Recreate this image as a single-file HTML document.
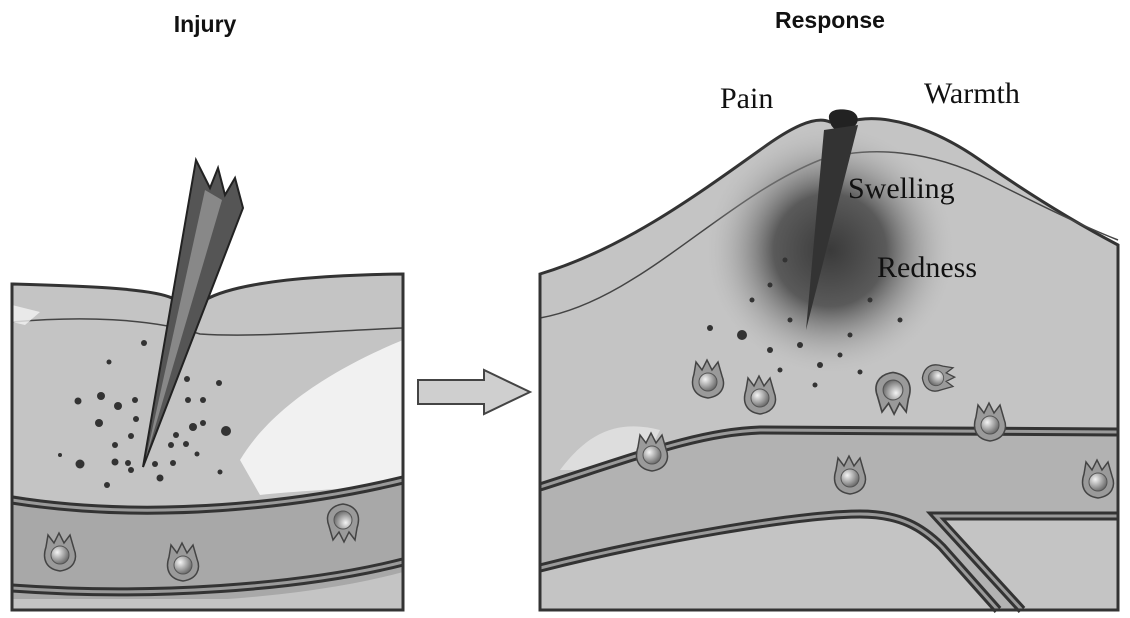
<!DOCTYPE html>
<html><head><meta charset="utf-8"><style>
html,body{margin:0;padding:0;background:#fff;}
svg{display:block}
</style></head><body>
<svg width="1130" height="618" viewBox="0 0 1130 618" xmlns="http://www.w3.org/2000/svg">
<defs>
<radialGradient id="red" cx="0.5" cy="0.5" r="0.5">
<stop offset="0" stop-color="#3a3a3a"/><stop offset="0.45" stop-color="#5a5a5a"/><stop offset="1" stop-color="#bdbdbd" stop-opacity="0"/>
</radialGradient>
<radialGradient id="cellg" cx="0.35" cy="0.35" r="0.7"><stop offset="0" stop-color="#f4f4f4"/><stop offset="1" stop-color="#666"/></radialGradient>
<g id="cell">
<path d="M-14,-8 L-12,-20 L-6,-12 L-1,-22 L4,-12 L10,-20 L14,-6 C18,4 14,14 0,16 C-14,14 -18,4 -14,-8 Z" fill="#9a9a9a" stroke="#444" stroke-width="1.5"/>
<circle cx="0" cy="0" r="9" fill="url(#cellg)" stroke="#555" stroke-width="1"/>
</g>
</defs>
<rect width="1130" height="618" fill="#fff"/>
<text x="205" y="32" font-family="Liberation Sans, sans-serif" font-weight="bold" font-size="23" text-anchor="middle" fill="#111">Injury</text>
<text x="830" y="28" font-family="Liberation Sans, sans-serif" font-weight="bold" font-size="23" text-anchor="middle" fill="#111">Response</text>

<!-- LEFT PANEL -->
<path d="M12,284 C80,286 150,288 172,298 L205,300 C240,280 330,275 403,274 L403,610 L12,610 Z" fill="#c4c4c4" stroke="#333" stroke-width="3"/>
<path d="M12,322 C80,316 150,318 200,334 C260,338 340,330 403,328" fill="none" stroke="#444" stroke-width="1.5"/>
<path d="M240,460 C270,410 330,370 403,340 L403,480 C360,490 300,490 260,495 Z" fill="#f6f6f6" opacity="0.9"/>
<path d="M12,305 L40,312 L25,325 L12,322 Z" fill="#f2f2f2" opacity="0.8"/>
<!-- vessel -->
<path d="M12,495 C150,520 300,505 403,478 L403,572 C300,600 150,608 12,600 Z" fill="#a8a8a8"/>
<path d="M12,500 C150,522 300,505 403,480" fill="none" stroke="#333" stroke-width="9"/>
<path d="M12,500 C150,522 300,505 403,480" fill="none" stroke="#9a9a9a" stroke-width="3"/>
<path d="M12,588 C150,598 300,588 403,562" fill="none" stroke="#333" stroke-width="9"/>
<path d="M12,588 C150,598 300,588 403,562" fill="none" stroke="#9a9a9a" stroke-width="3"/>
<rect x="12" y="599" width="391" height="11" fill="#c4c4c4"/>
<path d="M12,284 L12,610 L403,610 L403,274" fill="none" stroke="#333" stroke-width="3"/>
<use href="#cell" x="60" y="555"/><use href="#cell" x="183" y="565"/>
<g transform="translate(343,520) rotate(180)"><use href="#cell"/></g>
<!-- dots -->
<g fill="#333">
<circle cx="144" cy="343" r="3"/><circle cx="109" cy="362" r="2.5"/><circle cx="78" cy="401" r="3.5"/><circle cx="101" cy="396" r="4"/><circle cx="135" cy="400" r="3"/><circle cx="118" cy="406" r="4"/><circle cx="136" cy="419" r="3"/><circle cx="99" cy="423" r="4"/><circle cx="131" cy="436" r="3"/><circle cx="115" cy="445" r="3"/><circle cx="115" cy="462" r="3.5"/><circle cx="60" cy="455" r="2"/><circle cx="80" cy="464" r="4.5"/><circle cx="128" cy="463" r="3"/><circle cx="107" cy="485" r="3"/><circle cx="131" cy="470" r="3"/><circle cx="187" cy="379" r="3"/><circle cx="219" cy="383" r="3"/><circle cx="188" cy="400" r="3"/><circle cx="203" cy="400" r="3"/><circle cx="203" cy="423" r="3"/><circle cx="193" cy="427" r="4"/><circle cx="226" cy="431" r="5"/><circle cx="176" cy="435" r="3"/><circle cx="171" cy="445" r="3"/><circle cx="186" cy="444" r="3"/><circle cx="173" cy="463" r="3"/><circle cx="197" cy="454" r="2.5"/><circle cx="155" cy="464" r="3"/><circle cx="220" cy="472" r="2.5"/><circle cx="160" cy="478" r="3.5"/>
</g>
<!-- thorn -->
<path d="M143,467 L196,160 L210,188 L218,168 L225,195 L235,178 L243,208 Z" fill="#555" stroke="#222" stroke-width="2"/>
<path d="M146,458 L205,190 L222,200 Z" fill="#888"/>

<!-- ARROW -->
<path d="M418,380 L484,380 L484,370 L530,392 L484,414 L484,404 L418,404 Z" fill="#cfcfcf" stroke="#444" stroke-width="2"/>

<!-- RIGHT PANEL -->
<path d="M540,274 C620,250 690,200 760,150 C790,128 815,115 830,122 L848,122 C880,112 930,125 980,160 C1030,195 1080,225 1118,245 L1118,610 L540,610 Z" fill="#c4c4c4" stroke="#333" stroke-width="3"/>
<path d="M540,318 C640,300 720,200 820,160 C870,145 930,150 990,180 C1040,205 1080,225 1118,240" fill="none" stroke="#444" stroke-width="1.5"/>
<path d="M560,470 C590,430 620,420 660,430 L640,470 Z" fill="#e8e8e8" opacity="0.7"/>
<ellipse cx="830" cy="250" rx="125" ry="125" fill="url(#red)"/>
<path d="M830,122 C825,110 838,108 848,110 C860,112 862,125 848,130 C840,133 832,130 830,122 Z" fill="#222"/>
<path d="M824,130 L858,125 L806,330 Z" fill="#333"/>
<!-- vessel right -->
<path d="M540,487 C640,455 700,432 760,430 L1118,432 L1118,512 L932,512 L1020,610 L1000,610 L940,545 C920,525 900,512 860,512 C800,512 650,540 540,565 Z" fill="#b2b2b2"/>
<g fill="none">
<path d="M540,487 C640,455 700,432 760,430 L1118,432" stroke="#333" stroke-width="9"/>
<path d="M540,487 C640,455 700,432 760,430 L1118,432" stroke="#9a9a9a" stroke-width="3"/>
<path d="M540,568 C650,540 800,514 860,514 C900,514 922,527 942,547 L998,610" stroke="#333" stroke-width="9"/>
<path d="M540,568 C650,540 800,514 860,514 C900,514 922,527 942,547 L998,610" stroke="#9a9a9a" stroke-width="3"/>
<path d="M1118,516 L936,516 L1022,610" stroke="#333" stroke-width="9"/>
<path d="M1118,516 L936,516 L1022,610" stroke="#9a9a9a" stroke-width="3"/>
</g>
<path d="M540,274 L540,610 L1118,610 L1118,245" fill="none" stroke="#333" stroke-width="3"/>
<use href="#cell" x="708" y="382"/><use href="#cell" x="760" y="398"/>
<g transform="translate(893,390) rotate(180) scale(1.1)"><use href="#cell"/></g>
<g transform="translate(936,378) rotate(90) scale(0.85)"><use href="#cell"/></g>
<use href="#cell" x="990" y="425"/><use href="#cell" x="652" y="455"/><use href="#cell" x="850" y="478"/><use href="#cell" x="1098" y="482"/>
<g fill="#333">
<circle cx="742" cy="335" r="5"/><circle cx="710" cy="328" r="3"/><circle cx="752" cy="300" r="2.5"/><circle cx="770" cy="350" r="3"/><circle cx="790" cy="320" r="2.5"/><circle cx="800" cy="345" r="3"/><circle cx="820" cy="365" r="3"/><circle cx="815" cy="385" r="2.5"/><circle cx="840" cy="355" r="2.5"/><circle cx="850" cy="335" r="2.5"/><circle cx="870" cy="300" r="2.5"/><circle cx="900" cy="320" r="2.5"/><circle cx="780" cy="370" r="2.5"/><circle cx="860" cy="372" r="2.5"/><circle cx="785" cy="260" r="2.5"/><circle cx="770" cy="285" r="2.5"/>
</g>
<g font-family="Liberation Serif, serif" font-size="30" fill="#111">
<text x="720" y="108">Pain</text>
<text x="924" y="103">Warmth</text>
<text x="848" y="198">Swelling</text>
<text x="877" y="277">Redness</text>
</g>
</svg>
</body></html>
